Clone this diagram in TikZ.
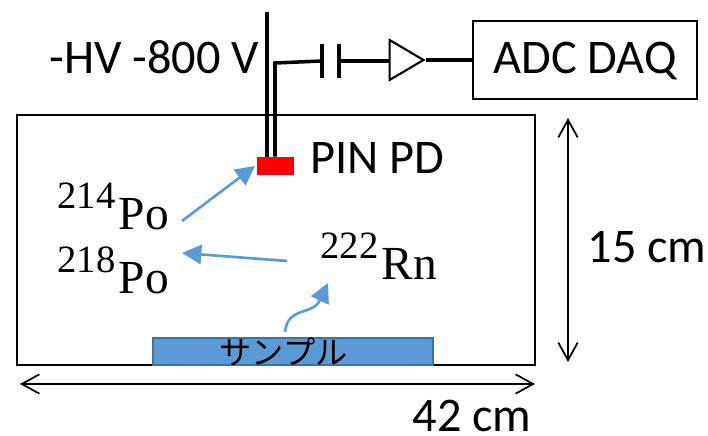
\documentclass[tikz,border=0pt]{standalone}
\usepackage{fontspec}
\setmainfont{Carlito}
\newfontfamily\serifpo{Liberation Serif}
\newfontfamily\cjk{Noto Sans CJK JP}
\usepackage{xcolor}
\usetikzlibrary{positioning,calc,shapes.geometric,arrows.meta}
\definecolor{lineblue}{HTML}{5B9BD5}
\definecolor{sampleedge}{HTML}{41719C}
\newcommand{\isotope}[2]{{\serifpo\raisebox{12pt}{\fontsize{22}{22}\selectfont #1}\kern 2pt\fontsize{27}{27}\selectfont #2}}
\tikzstyle{lab}= [inner sep=0pt, font=\fontsize{27.5}{27.5}\selectfont]
\tikzstyle{iso}= [inner sep=0pt, anchor=base west]
\tikzstyle{wire}= [line width=2pt]
\tikzstyle{dim}= [line width=1pt, {Straight Barb[length=10pt,width=11pt]}-{Straight Barb[length=10pt,width=11pt]}]
\tikzstyle{decay}= [lineblue, line width=1.5pt, -{Triangle[length=11pt,width=11pt]}]

\begin{document}
\begin{tikzpicture}
				\useasboundingbox (0,0) rectangle (14.16,8.72);
				\node[draw, line width=1.2pt, minimum width=10.36cm, minimum height=5cm, inner sep=0pt] (tank) at (5.52,3.92) {};
				\node[draw=sampleedge, fill=lineblue, line width=1pt, minimum width=5.6cm, minimum height=0.54cm, inner sep=0pt] (sample) at (5.86,1.69) {};
				\node[inner sep=0pt, font=\cjk\fontsize{18.3}{18.3}\selectfont] (samplelabel) at (5.67,1.68) {サンプル};
				\node[fill=red, minimum width=0.74cm, minimum height=0.36cm, inner sep=0pt] (pd) at (5.51,5.4) {};
				\node[draw, line width=0.9pt, minimum width=4.48cm, minimum height=1.56cm, inner sep=0pt] (daq) at (11.7,7.52) {};
				\node[lab] (daqlabel) at (11.7,7.5) {ADC DAQ};
				\node[draw, line width=1.2pt, isosceles triangle, isosceles triangle stretches, minimum width=0.8cm, minimum height=0.68cm, inner sep=0pt] (amp) at (8.02,7.52) {};
				\node[lab, anchor=west] (hvlabel) at (0.98,7.58) {-HV -800 V};
				\node[lab, anchor=west] (pinlabel) at (6.2,5.56) {PIN PD};
				\node[lab] (height) at (12.94,3.78) {15 cm};
				\node[lab] (width) at (9.44,0.4) {42 cm};
				\node[iso] (po214) at (1.14,4.12) {\isotope{214}{Po}};
				\node[iso] (po218) at (1.14,2.84) {\isotope{218}{Po}};
				\node[iso] (rn222) at (6.4,3.12) {\isotope{222}{Rn}};

				\coordinate (hvtop) at (5.34,8.48);
				\coordinate (bend) at (5.5,7.46);
				\coordinate (capa) at (6.44,7.5);
				\coordinate (capb) at (6.78,7.5);
				\coordinate (emit) at (5.7,2.08);
				\coordinate (drift) at (6.56,3.06);
				\coordinate (hstart) at (0.4,1.04);
				\coordinate (hend) at (10.7,1.04);
				\coordinate (vstart) at (11.36,6.36);
				\coordinate (vend) at (11.36,1.48);
				\coordinate (po214tip) at (5.1,5.4);
				\coordinate (po214tail) at (3.64,4.3);
				\coordinate (rntail) at (5.74,3.5);
				\coordinate (po218tip) at (3.64,3.66);

				\draw[wire](hvtop) -- (hvtop |- pd.north);
				\draw[wire](bend |- pd.north) -- (bend) -- (capa);
				\draw[wire]($(capa)+(0,0.34)$) -- ($(capa)+(0,-0.34)$);
				\draw[wire]($(capb)+(0,0.34)$) -- ($(capb)+(0,-0.34)$);
				\draw[wire](capb) -- (amp.west |- capb);
				\draw[wire](amp.east) -- (amp.east -| daq.west);
				\draw[decay](po214tail) -- (po214tip);
				\draw[decay](rntail) -- (po218tip);
				\draw[decay](emit) .. controls (5.75,2.6) and (6.25,2.4) .. (drift);
				\draw[dim](hstart) -- (hend);
				\draw[dim](vstart) -- (vend);
			\end{tikzpicture}
\end{document}
